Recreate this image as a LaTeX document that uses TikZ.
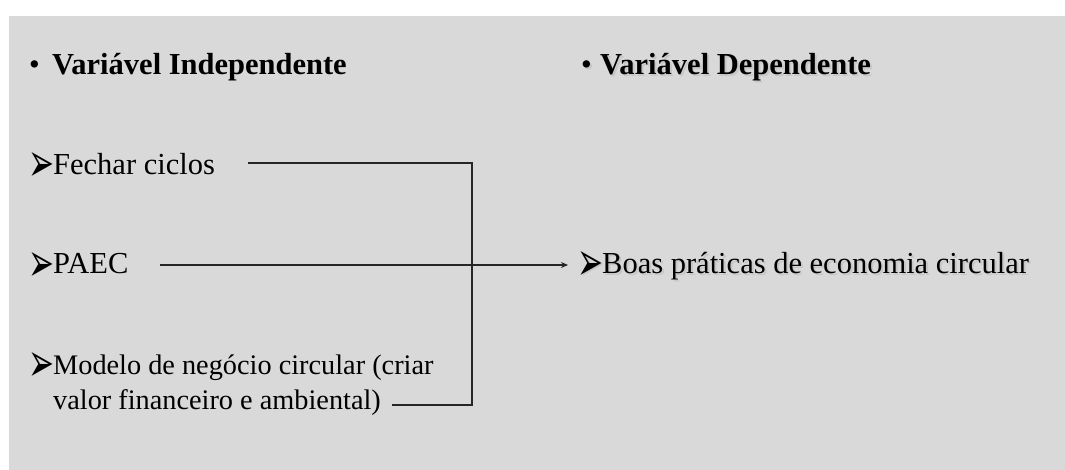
\documentclass[tikz,border=0pt]{standalone}
\usepackage{fontspec}
\setmainfont{Liberation Serif}
\newfontfamily\arrowfont{DejaVu Sans}
\usetikzlibrary{arrows.meta}
\definecolor{bg}{HTML}{D9D9D9}
\newcommand{\arrowbul}{\makebox[22pt][l]{\hspace*{-2.5pt}\raisebox{-7pt}{\resizebox{26pt}{29pt}{\arrowfont ➢}}\hss}}
\newcommand{\shtext}[1]{\leavevmode\rlap{\color{black!22}\raisebox{-2pt}{\hspace*{2pt}#1}}#1}
\begin{document}
\begin{tikzpicture}[x=1pt,y=-1pt,
  txt/.style={anchor=base west, inner sep=0pt, font=\fontsize{30.5}{35}\selectfont},
  small/.style={anchor=base west, inner sep=0pt, font=\fontsize{28.3}{35}\selectfont},
  hd/.style={anchor=base west, inner sep=0pt, font=\fontsize{30.5}{35}\selectfont\bfseries},
  conn/.style={line width=1.2pt, draw=black!85}]
\useasboundingbox (0,0) rectangle (1065,470);
\fill[bg] (9,16) rectangle (1065,470);
\node[hd] (indep) at (29,75) {\makebox[23pt][l]{\mdseries•}Variável Independente};
\node[hd] (dep) at (581,75) {\shtext{\makebox[19pt][l]{\mdseries•}Variável Dependente}};
\node[txt] (fechar) at (31,175) {\arrowbul Fechar ciclos};
\node[txt] (paec) at (31,274) {\arrowbul PAEC};
\node[txt] (boas) at (580,273) {\shtext{\arrowbul Boas práticas de economia circular}};
\node[small, align=left] (modelo) at (31,409) {\arrowbul Modelo de negócio circular (criar\\\hspace*{22pt}valor financeiro e ambiental)};
\coordinate (j1) at (472,163);
\coordinate (j2) at (472,405);
\coordinate (m2) at (392,405);
\coordinate (lvl) at (0,265);
\draw[conn, shorten <=33pt] (fechar.east |- j1) -- (j1) -- (j2) -- (m2);
\draw[conn, shorten <=31pt, shorten >=12pt, -{Stealth[length=7pt,width=6pt]}] (paec.east |- lvl) -- (boas.west |- lvl);
\end{tikzpicture}
\end{document}
